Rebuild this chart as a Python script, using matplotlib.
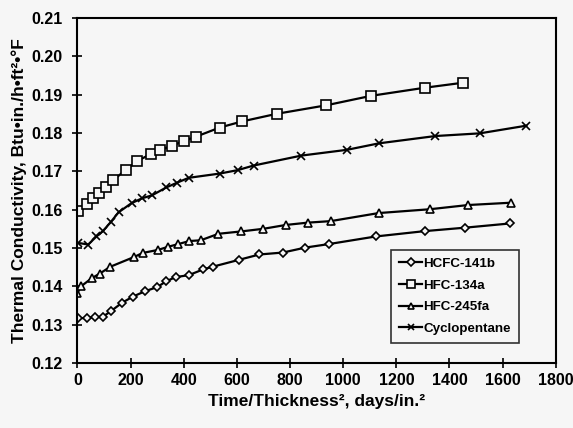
import matplotlib
matplotlib.use("Agg")
import matplotlib.pyplot as plt

# Data
hcfc141b_x = [1, 36, 66, 95, 128, 168, 209, 254, 301, 334, 370, 419, 473, 509,
              608, 685, 773, 858, 945, 1123, 1308, 1460, 1629]
hcfc141b_y = [0.1317, 0.1317, 0.1320, 0.1320, 0.1336, 0.1357, 0.1373, 0.1387,
              0.1398, 0.1413, 0.1424, 0.1429, 0.1444, 0.1451, 0.1469, 0.1483,
              0.1488, 0.1501, 0.1510, 0.1530, 0.1544, 0.1553, 0.1564]

hfc134a_x = [3, 35, 58, 82, 108, 133, 183, 226, 276, 312, 356, 401, 445, 535,
             619, 750, 935, 1106, 1307, 1450]
hfc134a_y = [0.1597, 0.1615, 0.1630, 0.1643, 0.1658, 0.1676, 0.1704, 0.1727,
             0.1745, 0.1755, 0.1767, 0.1779, 0.1790, 0.1814, 0.1830, 0.1850,
             0.1872, 0.1897, 0.1918, 0.1931]

hfc245fa_x = [0, 14, 54, 84, 124, 212, 246, 304, 341, 379, 421, 464, 531, 615,
              700, 784, 866, 953, 1133, 1326, 1470, 1630]
hfc245fa_y = [0.1382, 0.1400, 0.1421, 0.1433, 0.1451, 0.1476, 0.1487, 0.1495,
              0.1503, 0.1510, 0.1518, 0.1520, 0.1537, 0.1543, 0.1550, 0.1560,
              0.1566, 0.1570, 0.1591, 0.1601, 0.1612, 0.1618]

cyclo_x = [4, 41, 72, 96, 125, 155, 204, 245, 280, 335, 374, 419, 535, 603,
           663, 843, 1014, 1135, 1347, 1514, 1689]
cyclo_y = [0.1513, 0.1509, 0.1530, 0.1544, 0.1567, 0.1593, 0.1617, 0.1630,
           0.1637, 0.1658, 0.1670, 0.1683, 0.1694, 0.1703, 0.1715, 0.1741,
           0.1756, 0.1773, 0.1792, 0.1799, 0.1819]

x_ticks = [0, 200, 400, 600, 800, 1000, 1200, 1400, 1600, 1800]
y_ticks = [0.12, 0.13, 0.14, 0.15, 0.16, 0.17, 0.18, 0.19, 0.20, 0.21]

plt.rcParams['font.family'] = ['Liberation Sans', 'DejaVu Sans']
plt.rcParams['font.weight'] = 'bold'

bg = '#f6f6f6'
fig = plt.figure(figsize=(5.73, 4.28), dpi=100, facecolor=bg)
ax = fig.add_axes([0.135, 0.152, 0.835, 0.806], facecolor=bg)

common = dict(color='black', lw=1.6, mfc=bg, mec='black', mew=1.2)
ax.plot(hcfc141b_x, hcfc141b_y, marker='D', ms=4.5, label='HCFC-141b', **common)
ax.plot(hfc134a_x, hfc134a_y, marker='s', ms=6.5, label='HFC-134a', **common)
ax.plot(hfc245fa_x, hfc245fa_y, marker='^', ms=5.5, label='HFC-245fa', **common)
ax.plot(cyclo_x, cyclo_y, marker='x', ms=6, label='Cyclopentane',
        color='black', lw=1.6, mew=1.2)

ax.set_xlim(0, 1800)
ax.set_ylim(0.12, 0.21)
ax.set_xticks(x_ticks)
ax.set_yticks(y_ticks)
ax.set_xticklabels([str(v) for v in x_ticks])
ax.set_yticklabels([f'{v:.2f}' for v in y_ticks])
ax.tick_params(direction='inout', length=7, width=1.2, labelsize=11.5, pad=4)
ax.tick_params(axis='y', pad=7)
for s in ax.spines.values():
    s.set_linewidth(1.5)

ax.set_xlabel('Time/Thickness², days/in.²', fontsize=12.5, fontweight='bold', labelpad=4)
ax.set_ylabel('Thermal Conductivity, Btu•in./h•ft²•°F', fontsize=12.5,
              fontweight='bold', labelpad=3)

leg = ax.legend(loc='lower right', bbox_to_anchor=(0.923, 0.058), fontsize=9.6,
                frameon=True, fancybox=False, edgecolor='black', facecolor=bg,
                handlelength=1.7, handletextpad=0.1, labelspacing=0.7,
                borderpad=0.6, borderaxespad=0, markerscale=0.8)
leg.get_frame().set_linewidth(1.2)

fig.savefig('out.png', dpi=100, facecolor=bg)
